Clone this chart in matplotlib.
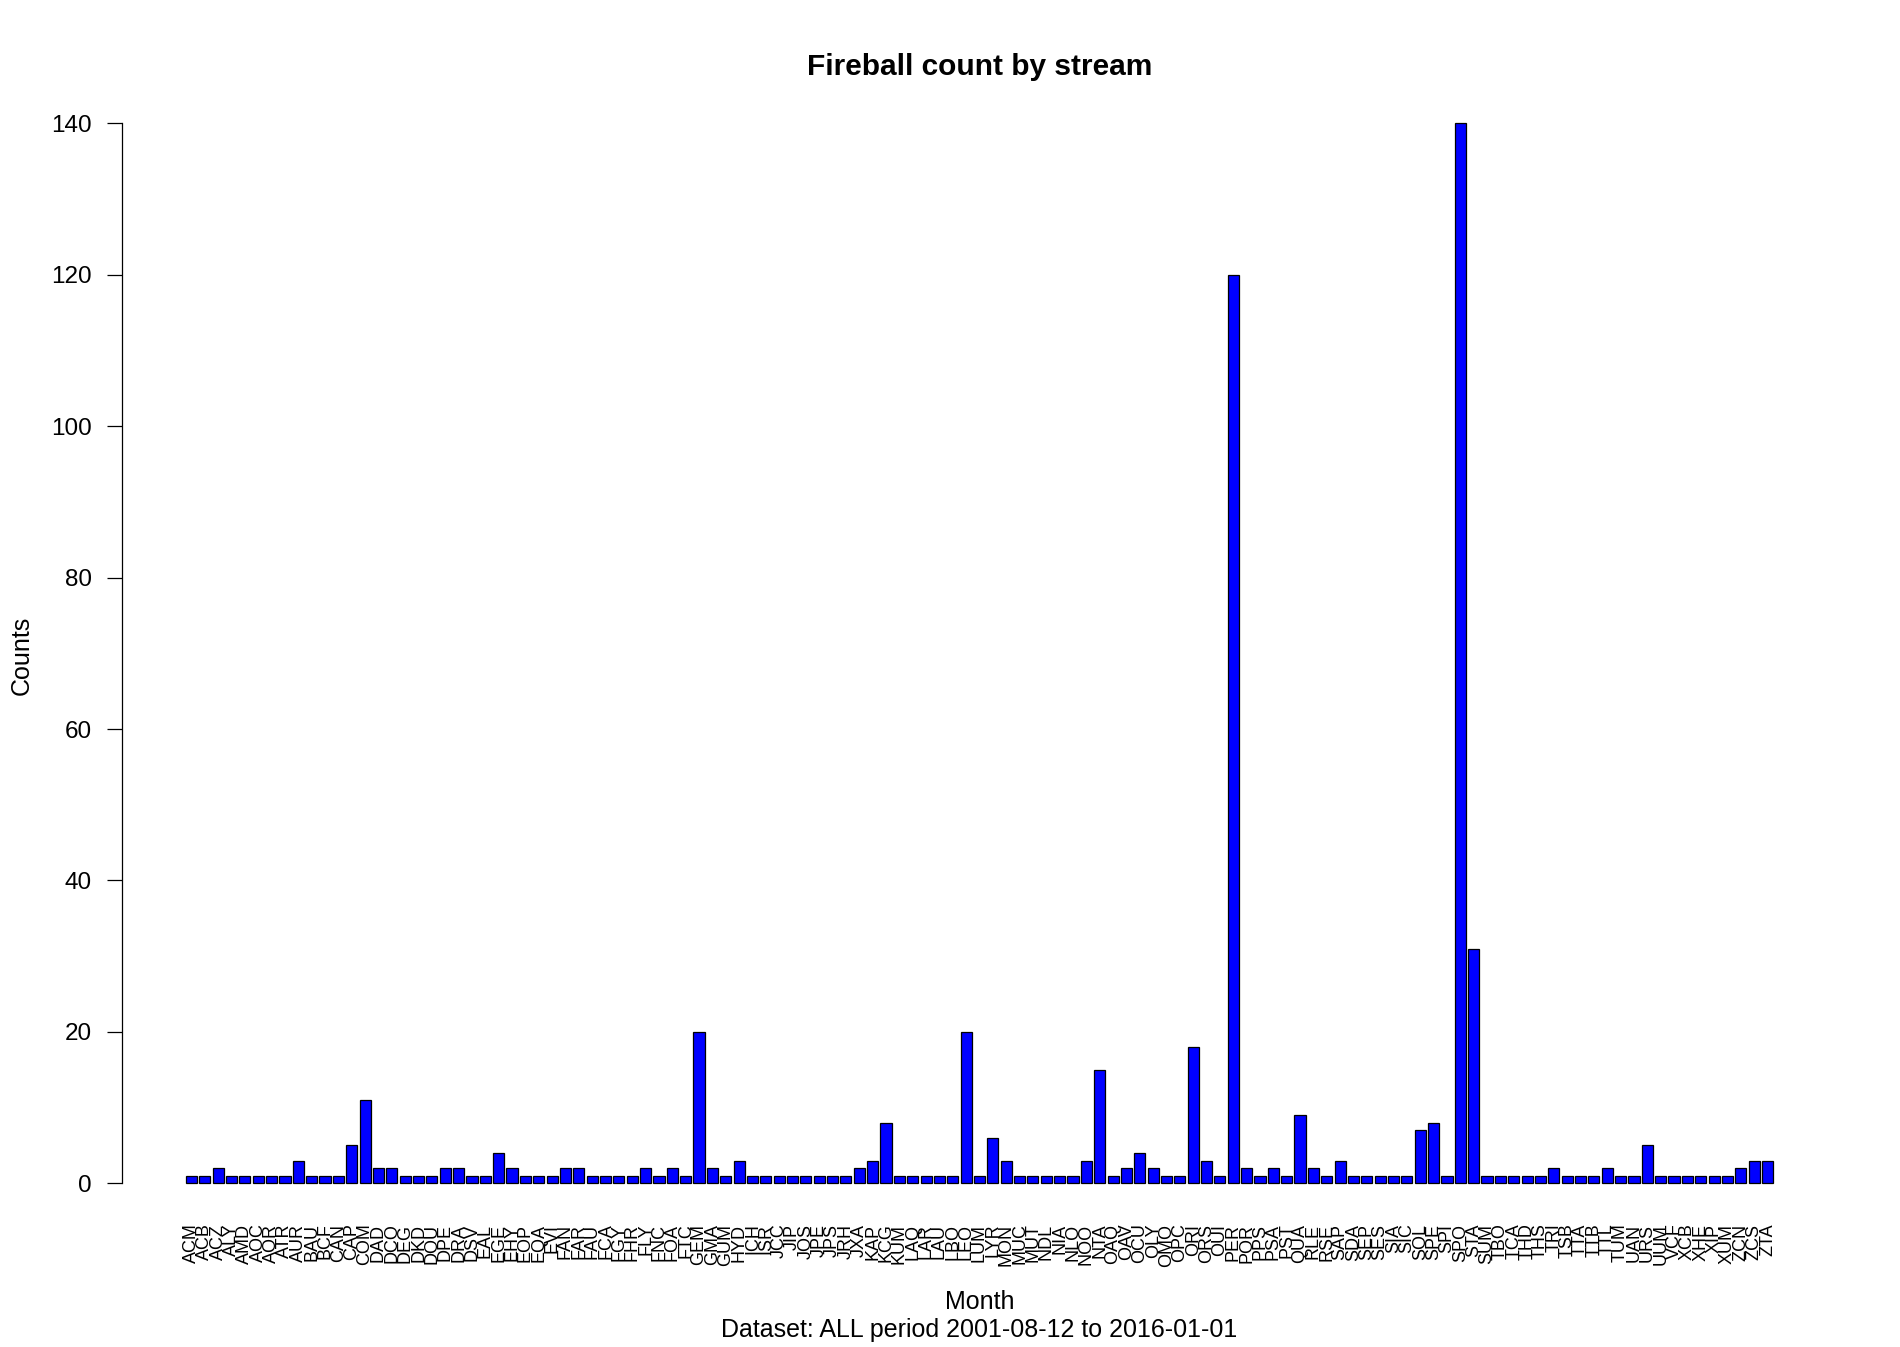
import matplotlib
matplotlib.use("Agg")
import matplotlib.pyplot as plt
import numpy as np

plt.rcParams['font.family'] = ['Liberation Sans', 'DejaVu Sans']

streams = ["ACM", "ACB", "ACZ", "ALY", "AMD", "AOC", "AOR", "ATR", "AUR", "BAU",
           "BCF", "CAN", "CAP", "COM", "DAD", "DCO", "DEG", "DKD", "DOU", "DPE",
           "DRA", "DSV", "EAL", "EGE", "EHY", "EOP", "EQA", "EVI", "FAN", "FAR",
           "FAU", "FCA", "FGY", "FHR", "FLY", "FNC", "FOA", "FTC", "GEM", "GMA",
           "GUM", "HYD", "ICH", "ISR", "JCC", "JIP", "JOS", "JPE", "JPS", "JRH",
           "JXA", "KAP", "KCG", "KUM", "LAQ", "LAR", "LAU", "LBO", "LEO", "LUM",
           "LYR", "MON", "MUC", "MUT", "NDL", "NIA", "NLO", "NOO", "NTA", "OAQ",
           "OAV", "OCU", "OLY", "OMO", "OPC", "ORI", "ORS", "OUI", "PER", "POR",
           "PPS", "PSA", "PST", "QUA", "RLE", "RSE", "SAP", "SDA", "SEP", "SES",
           "SIA", "SIC", "SOL", "SPE", "SPI", "SPO", "STA", "SUM", "TBO", "TCA",
           "THD", "THS", "TRI", "TSB", "TTA", "TTB", "TTL", "TUM", "UAN", "URS",
           "UUM", "VCF", "XCB", "XHE", "XIP", "XUM", "ZCN", "ZCS", "ZTA"]

counts = [1, 1, 2, 1, 1, 1, 1, 1, 3, 1,
          1, 1, 5, 11, 2, 2, 1, 1, 1, 2,
          2, 1, 1, 4, 2, 1, 1, 1, 2, 2,
          1, 1, 1, 1, 2, 1, 2, 1, 20, 2,
          1, 3, 1, 1, 1, 1, 1, 1, 1, 1,
          2, 3, 8, 1, 1, 1, 1, 1, 20, 1,
          6, 3, 1, 1, 1, 1, 1, 3, 15, 1,
          2, 4, 2, 1, 1, 18, 3, 1, 120, 2,
          1, 2, 1, 9, 2, 1, 3, 1, 1, 1,
          1, 1, 7, 8, 1, 140, 31, 1, 1, 1,
          1, 1, 2, 1, 1, 1, 2, 1, 1, 5,
          1, 1, 1, 1, 1, 1, 2, 3, 3]

y_ticks = [0, 20, 40, 60, 80, 100, 120, 140]

title = "Fireball count by stream"
x_label = "Month"
y_label = "Counts"
caption = "Dataset: ALL period 2001-08-12 to 2016-01-01"

W, H = 1900, 1347
fig = plt.figure(figsize=(W / 100, H / 100), dpi=100)
ax = fig.add_axes([122.4 / W, 1 - 1225.7 / H, (1836.6 - 122.4) / W, (1225.7 - 80.9) / H])

n = len(counts)
width = 1.0
space = 0.2
x = 0.2 + np.arange(n) * (width + space) + width / 2
ax.bar(x, counts, width=width, color="#0000FF", edgecolor="black", linewidth=0.9)

xl0 = 0.2
xl1 = n * (width + space)
pad = 0.04 * (xl1 - xl0)
ax.set_xlim(xl0 - pad, xl1 + pad)
ax.set_ylim(-0.04 * 140, 140 * 1.04)

for s in ["top", "right", "bottom"]:
    ax.spines[s].set_visible(False)
ax.spines["left"].set_bounds(0, 140)
ax.spines["left"].set_linewidth(0.9)

ax.set_yticks(y_ticks)
ax.set_yticklabels([str(t) for t in y_ticks], fontsize=17.5)
ax.tick_params(axis="y", length=10.8, width=0.9, pad=11.0)

ax.set_xticks(x)
ax.set_xticklabels(streams, rotation=90, fontsize=13)
ax.tick_params(axis="x", length=0, pad=-1.5)

cx = (122.4 + 1836.6) / 2 / W
fig.text(cx, 1 - 75 / H, title, ha="center", va="baseline",
         fontsize=21.5, fontweight="bold")
fig.text(cx, 1 - 1309 / H, x_label, ha="center", va="baseline", fontsize=18)
fig.text(cx, 1 - 1337 / H, caption, ha="center", va="baseline", fontsize=18)
fig.text(22 / W, 1 - 655 / H, y_label, ha="center", va="center", rotation=90, fontsize=18)

fig.savefig("out.png", dpi=100)
